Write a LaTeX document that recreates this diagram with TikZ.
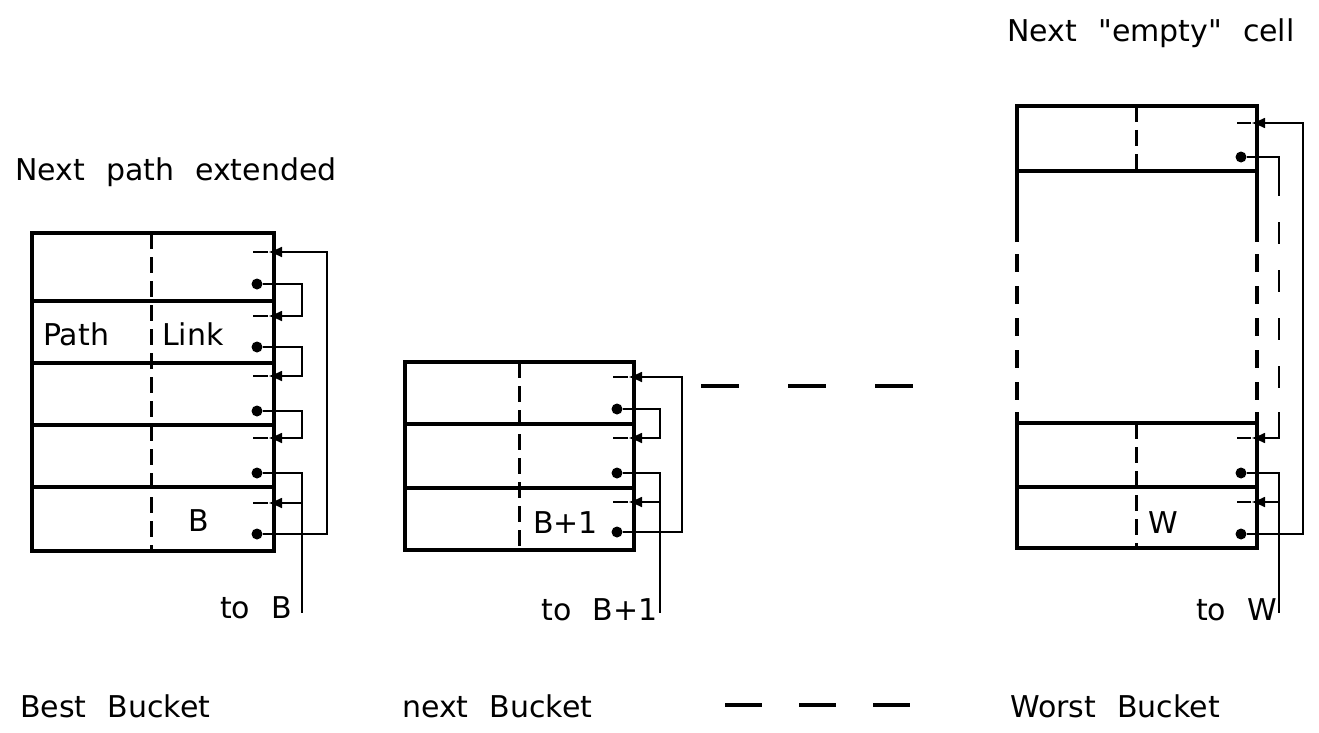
\documentclass[tikz,border=0pt]{standalone}
\usepackage{fontspec}
\setmainfont{DejaVu Sans}[WordSpace=2.2, Ligatures=TeXOff]
\usetikzlibrary{arrows.meta, positioning}

\begin{document}
\begin{tikzpicture}[
  x=1pt, y=-1pt,
  every node/.style={font=\fontsize{30}{36}\selectfont, inner sep=0pt},
  frame/.style={line width=3.5pt},
  divider/.style={line width=3pt, dash pattern=on 16pt off 8pt},
  gapside/.style={line width=3.5pt, dash pattern=on 18pt off 14pt},
  link/.style={line width=2.5pt},
  gaplink/.style={line width=2.5pt, dash pattern=on 22pt off 26pt},
  pointer/.style={line width=2.5pt, -{Latex[length=14pt, width=11pt]}},
  dot/.style={circle, fill, minimum size=11pt, inner sep=0pt},
  note/.style={anchor=base west},
  dashes/.style={line width=3.5pt},
]
\useasboundingbox (0,0) rectangle (1319,733);

% Headings
\node[note] (extended) at (15,180) {Next path extended};
\node[anchor=base] (empty) at (1151,42) {Next "empty" cell};

% Best bucket
\draw[frame] (32,233) rectangle (274,551);
\foreach \y in {301,363,425,487} \draw[frame] (32,\y) -- (274,\y);
\draw[divider] (151,233) -- (151,551);
\node[note] (path) at (43,345) {Path};
\node[note] (linkfield) at (162,345) {Link};
\node[note] (best) at (188,531) {B};
\foreach \a/\d [count=\i] in {252/284, 316/347, 376/411, 438/473, 503/534} {
  \coordinate (b1t\i) at (268,\a);
  \coordinate (b1i\i) at (253,\a);
  \node[dot] (b1d\i) at (257,\d) {};
  \draw[link] (b1t\i) -- (b1i\i);
}
\foreach \i/\j in {1/2, 2/3, 3/4}
  \draw[pointer] (b1d\i) -| ([xshift=34pt]b1t\j) -- (b1t\j);
\coordinate (b1end) at (302,613);
\draw[link] (b1d4) -| (b1end);
\draw[pointer] ([xshift=34pt]b1t5) -- (b1t5);
\draw[pointer] (b1d5) -| ([xshift=59pt]b1t1) -- (b1t1);
\node[anchor=base east] (tob) at (292,618) {to B};

% Next bucket
\draw[frame] (405,362) rectangle (634,550);
\foreach \y in {424,488} \draw[frame] (405,\y) -- (634,\y);
\draw[divider] (519,362) -- (519,550);
\node[note] (next) at (533,533) {B+1};
\foreach \a/\d [count=\i] in {377/409, 438/473, 502/532} {
  \coordinate (b2t\i) at (628,\a);
  \coordinate (b2i\i) at (613,\a);
  \node[dot] (b2d\i) at (617,\d) {};
  \draw[link] (b2t\i) -- (b2i\i);
}
\draw[pointer] (b2d1) -| ([xshift=32pt]b2t2) -- (b2t2);
\coordinate (b2end) at (660,613);
\draw[link] (b2d2) -| (b2end);
\draw[pointer] ([xshift=32pt]b2t3) -- (b2t3);
\draw[pointer] (b2d3) -| ([xshift=54pt]b2t1) -- (b2t1);
\node[anchor=base east] (tonext) at (658,620) {to B+1};

% Gap between buckets
\draw[dashes, dash pattern=on 38pt off 49pt] (701,386) -- (913,386);

% Worst bucket
\draw[frame] (1017,242) -- (1017,106) -- (1257,106) -- (1257,242);
\draw[frame] (1017,171) -- (1257,171);
\draw[gapside] (1017,254) -- (1017,400);
\draw[gapside] (1257,254) -- (1257,400);
\draw[frame] (1017,412) -- (1017,548) -- (1257,548) -- (1257,412);
\foreach \y in {423,487} \draw[frame] (1017,\y) -- (1257,\y);
\draw[divider] (1136,106) -- (1136,171);
\draw[divider] (1136,423) -- (1136,548);
\node[note] (worst) at (1148,533) {W};
\foreach \a/\d [count=\i] in {123/157, 438/473, 502/534} {
  \coordinate (b3t\i) at (1251,\a);
  \coordinate (b3i\i) at (1237,\a);
  \node[dot] (b3d\i) at (1241,\d) {};
  \draw[link] (b3t\i) -- (b3i\i);
}
\coordinate (b3g1) at (1279,196);
\coordinate (b3g2) at (1279,222);
\coordinate (b3g3) at (1279,390);
\coordinate (b3g4) at (1279,412);
\draw[link] (b3d1) -| (b3g1);
\draw[gaplink] (b3g2) -- (b3g3);
\draw[pointer] (b3g4) |- (b3t2);
\coordinate (b3end) at (1279,613);
\draw[link] (b3d2) -| (b3end);
\draw[pointer] ([xshift=28pt]b3t3) -- (b3t3);
\draw[pointer] (b3d3) -| ([xshift=52pt]b3t1) -- (b3t1);
\node[anchor=base east] (tow) at (1277,620) {to W};

% Bottom labels
\node[note] (bestb) at (20,717) {Best Bucket};
\node[note] (nextb) at (402,717) {next Bucket};
\draw[dashes, dash pattern=on 37pt off 37pt] (725,705) -- (910,705);
\node[note] (worstb) at (1010,717) {Worst Bucket};
\end{tikzpicture}
\end{document}
